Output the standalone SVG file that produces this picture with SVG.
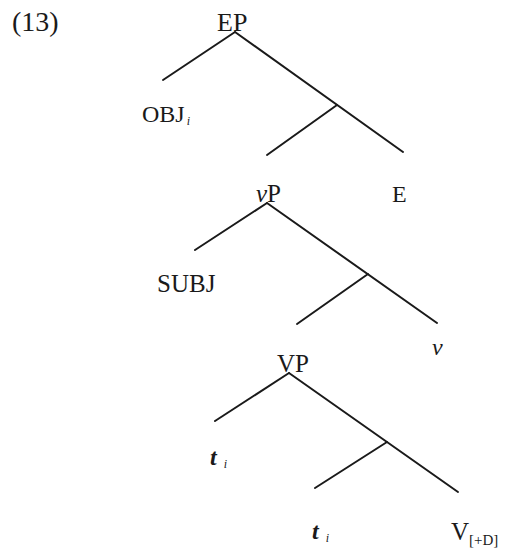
<svg xmlns="http://www.w3.org/2000/svg" width="505" height="552" viewBox="0 0 505 552">
<style>
text{font-family:"Liberation Serif","Times New Roman",serif;font-size:24px;fill:#1a1a1a}
.it{font-style:italic}
.sub{font-size:12px}
.edge{stroke:#1a1a1a;stroke-width:2;fill:none;stroke-linecap:round}
</style>
<rect width="505" height="552" fill="#fff"/>
<text id="label13" x="12" y="31" style="font-size:28px">(13)</text>
<g id="connectors">
<line class="edge" x1="235" y1="32" x2="163" y2="80"/>
<line class="edge" x1="235" y1="32" x2="403" y2="152"/>
<line class="edge" x1="337" y1="105" x2="267" y2="155"/>
<line class="edge" x1="267" y1="203" x2="195" y2="250"/>
<line class="edge" x1="267" y1="203" x2="437" y2="323"/>
<line class="edge" x1="368" y1="274" x2="297" y2="324"/>
<line class="edge" x1="289" y1="373" x2="215" y2="421"/>
<line class="edge" x1="289" y1="373" x2="458" y2="492"/>
<line class="edge" x1="387" y1="442" x2="315" y2="488"/>
</g>
<g id="EP"><text x="217" y="31" style="font-size:26px">EP</text></g>
<g id="OBJ"><text x="142" y="122">OBJ<tspan class="it sub" dx="2" dy="3">i</tspan></text></g>
<g id="E"><text x="392" y="202">E</text></g>
<g id="vP"><text x="256" y="202" style="font-size:25px"><tspan class="it">v</tspan>P</text></g>
<g id="SUBJ"><text x="157" y="292" style="font-size:25px">SUBJ</text></g>
<g id="v"><text class="it" x="432" y="355">v</text></g>
<g id="VP"><text x="277" y="372" style="font-size:25px">VP</text></g>
<g id="t1"><text class="it" x="210" y="465" style="font-weight:bold">t<tspan class="sub" dx="7" dy="3" style="font-weight:normal">i</tspan></text></g>
<g id="t2"><text class="it" x="312" y="539" style="font-weight:bold">t<tspan class="sub" dx="7" dy="3" style="font-weight:normal">i</tspan></text></g>
<g id="V"><text x="451" y="540" style="font-size:25px">V<tspan style="font-family:'Liberation Serif',serif;font-size:15px" dy="5">[+D]</tspan></text></g>
</svg>
